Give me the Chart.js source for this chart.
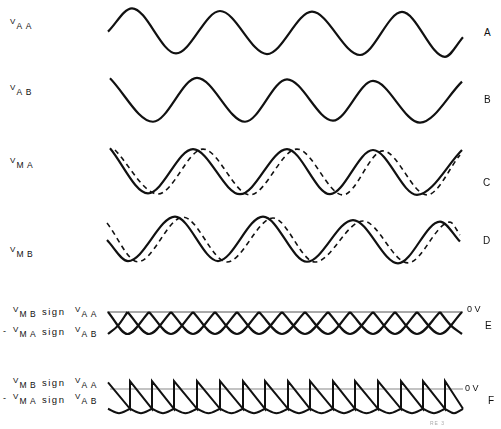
<!DOCTYPE html>
<html>
<head>
<meta charset="utf-8">
<title>Phase detector waveforms</title>
<script src="https://cdn.jsdelivr.net/npm/chart.js@4.4.1/dist/chart.umd.min.js"></script>
<style>
  body { margin: 0; background: #fff; }
  #fig { position: relative; width: 501px; height: 429px; overflow: hidden; background: #fff;
         font-family: "Liberation Sans", Arial, sans-serif; color: #111; }
  #fig canvas { position: absolute; left: 100px; }
  .t { position: absolute; line-height: 1; white-space: nowrap; }
</style>
</head>
<body>
<div id="fig">
  <canvas id="pA" width="370" height="68" style="top:-1px"></canvas>
  <canvas id="pB" width="370" height="68" style="top:66px"></canvas>
  <canvas id="pC" width="370" height="68" style="top:138px"></canvas>
  <canvas id="pD" width="370" height="68" style="top:206px"></canvas>
  <canvas id="pE" width="370" height="44" style="top:301px"></canvas>
  <canvas id="pF" width="370" height="44" style="top:378px"></canvas>
</div>
<script>
// time axis is shared by all traces; amplitudes normalised so a peak is about 1

// A: V_AA
var aX = [108, 132, 176, 220, 267, 312, 360, 402, 445, 463];
var aY = [0.06, 1.09, -0.9, 0.97, -0.93, 0.94, -0.97, 0.93, -1.05, -0.19];

// B: V_AB
var bX = [110, 153, 197, 245, 287, 333, 373, 420, 462];
var bY = [0.96, -0.96, 0.98, -0.96, 0.91, -0.91, 0.84, -1.0, 0.81];

// C: V_MA (solid) and the dashed reference
var cX = [110, 148, 193, 240, 287, 330, 373, 417, 462];
var cY = [1.05, -0.94, 1.01, -0.98, 1.01, -0.98, 0.97, -1.01, 0.97];
var cDashX = [115, 158, 203, 250, 297, 343, 383, 427, 460];
var cDashY = [0.97, -0.97, 1.01, -1.01, 1.01, -1.01, 0.93, -1.01, 0.75];

// D: V_MB (solid) and the dashed reference
var dX = [107, 128, 175, 218, 263, 307, 353, 398, 440, 460];
var dY = [0, -0.93, 1.03, -0.93, 1.03, -0.96, 0.88, -1.03, 0.81, -0.07];
var dDashX = [107, 138, 183, 227, 273, 315, 363, 408, 450, 460];
var dDashY = [0.75, -0.96, 1.01, -0.97, 0.97, -0.97, 0.84, -1.01, 0.79, 0.22];

// E: V_MB sign V_AA and -V_MA sign V_AB, cusps sit on 0 V
var eX = [108, 127.5, 149, 171, 193, 215, 237, 259, 282, 305, 328, 350, 373, 395, 417, 440, 462];
var eMbY = [0, -1, 0, -1, 0, -1, 0, -1, 0, -1, 0, -1, 0, -1, 0, -1, 0];
var eMaX = [108, 118, 127.5, 149, 171, 193, 215, 237, 259, 282, 305, 328, 350, 373, 395, 417, 440, 451, 462];
var eMaY = [-1, -0.62, 0, -1, 0, -1, 0, -1, 0, -1, 0, -1, 0, -1, 0, -1, 0, -0.62, -1];

// F: same products with the phase error, jumps where the sign flips
var fSawX = [108, 130, 130, 152, 152, 174, 174, 197, 197, 220, 220, 243, 243, 265, 265, 288, 288,
             310, 310, 333, 333, 355, 355, 378, 378, 401, 401, 423, 423, 445, 445, 463];
var fSawY = [0.3, -0.9, 0.36, -0.9, 0.36, -0.9, 0.36, -0.9, 0.36, -0.9, 0.36, -0.9, 0.36, -0.9, 0.36, -0.9, 0.36,
             -0.9, 0.36, -0.9, 0.36, -0.9, 0.36, -0.9, 0.36, -0.9, 0.36, -0.9, 0.36, -0.9, 0.36, -0.9];
var fArcX = [108, 119, 130, 141, 152, 163, 174, 185.5, 197, 208.5, 220, 231.5, 243, 254, 265, 276.5, 288,
             299, 310, 321.5, 333, 344, 355, 366.5, 378, 389.5, 401, 412, 423, 434, 445, 454, 463];
var fArcY = [-0.9, -1.1, -0.9, -1.1, -0.9, -1.1, -0.9, -1.1, -0.9, -1.1, -0.9, -1.1, -0.9, -1.1, -0.9, -1.1, -0.9,
             -1.1, -0.9, -1.1, -0.9, -1.1, -0.9, -1.1, -0.9, -1.1, -0.9, -1.1, -0.9, -1.1, -0.9, -1.1, -0.9];
var fArcCusp = -0.9;

var eZeroX = [107, 463];
var fZeroX = [110, 463];


function pts(xs, ys) {
  return xs.map(function (x, i) { return {x: x, y: ys[i]}; });
}

// break the line at every cusp so the curve stays pointed there
function lobes(xs, ys, cusp) {
  var out = [];
  xs.forEach(function (x, i) {
    out.push({x: x, y: ys[i]});
    if (ys[i] === cusp && i > 0 && i < xs.length - 1) {
      out.push({x: x, y: null}, {x: x, y: ys[i]});
    }
  });
  return out;
}

function trace(data, extra) {
  return Object.assign({
    data: data,
    borderColor: '#111',
    borderWidth: 2.2,
    pointRadius: 0,
    fill: false,
    cubicInterpolationMode: 'monotone',
    clip: false
  }, extra || {});
}

function panel(id, ymin, ymax, datasets) {
  return new Chart(document.getElementById(id), {
    type: 'line',
    data: { datasets: datasets },
    options: {
      responsive: false,
      animation: false,
      layout: { padding: 0 },
      plugins: { legend: { display: false }, tooltip: { enabled: false } },
      scales: {
        x: { type: 'linear', min: 100, max: 470, display: false },
        y: { min: ymin, max: ymax, display: false }
      }
    }
  });
}

var dash = { borderDash: [5, 4], borderWidth: 1.6 };

panel('pA', -1.5, 1.5, [trace(pts(aX, aY))]);
panel('pB', -1.5, 1.5, [trace(pts(bX, bY))]);
panel('pC', -1.5, 1.5, [trace(pts(cX, cY)), trace(pts(cDashX, cDashY), dash)]);
panel('pD', -1.5, 1.5, [trace(pts(dX, dY)), trace(pts(dDashX, dDashY), dash)]);
panel('pE', -1.5, 0.5, [
  trace(lobes(eX, eMbY, 0)),
  trace(lobes(eMaX, eMaY, 0)),
  trace(pts(eZeroX, [0, 0]), { borderColor: '#555', borderWidth: 1 })
]);
panel('pF', -1.5, 0.5, [
  trace(pts(fSawX, fSawY), { cubicInterpolationMode: 'default', tension: 0, borderWidth: 2 }),
  trace(lobes(fArcX, fArcY, fArcCusp), { borderWidth: 2 }),
  trace(pts(fZeroX, [0, 0]), { borderColor: '#888', borderWidth: 1.2 })
]);

// text
var fig = document.getElementById('fig');
function put(text, x, y, size, spacing, color) {
  var d = document.createElement('div');
  d.className = 't';
  d.textContent = text;
  d.style.left = x + 'px';
  d.style.top = y + 'px';
  d.style.fontSize = size + 'px';
  if (spacing) d.style.letterSpacing = spacing + 'px';
  if (color) d.style.color = color;
  fig.appendChild(d);
}
function vsub(sub, x, y) {
  put('V', x, y, 8);
  put(sub, x + 6.5, y + 4, 8.5, 3.5);
}

vsub('AA', 10, 18);
vsub('AB', 10, 84);
vsub('MA', 10, 157);
vsub('MB', 10, 246);

vsub('MB', 13, 306); put('sign', 42, 307, 9.5, 1.5); vsub('AA', 75, 306);
put('-', 3, 327, 9); vsub('MA', 13, 326); put('sign', 42, 327, 9.5, 1.5); vsub('AB', 75, 326);
vsub('MB', 13, 377); put('sign', 42, 378, 9.5, 1.5); vsub('AA', 75, 377);
put('-', 3, 394, 9); vsub('MA', 13, 393); put('sign', 42, 395, 9.5, 1.5); vsub('AB', 75, 393);

put('A', 484, 28, 10);
put('B', 484, 95, 10);
put('C', 483, 178, 10);
put('D', 483, 236, 10);
put('0 V', 467, 305, 9);
put('E', 485, 321, 10);
put('0 V', 465, 384, 9);
put('F', 488, 396, 10);
put('RE 3', 430, 421, 5, 1, '#aaa');
</script>
</body>
</html>
